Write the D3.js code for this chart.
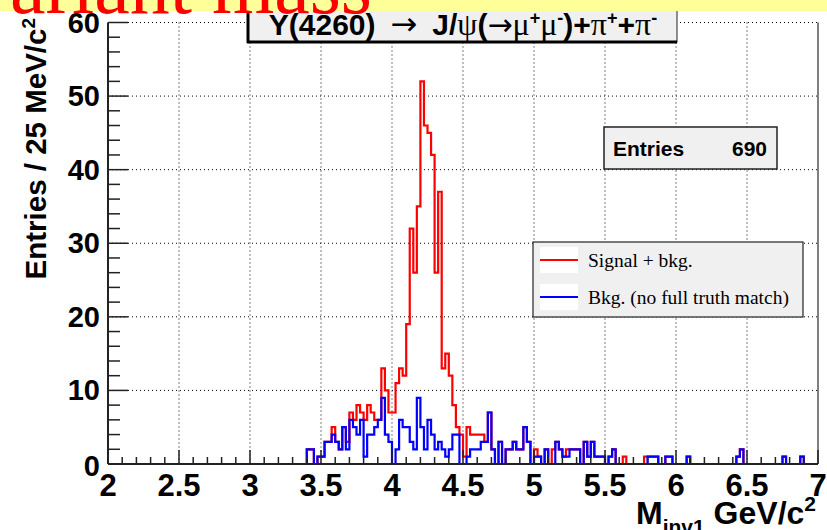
<!DOCTYPE html>
<html>
<head>
<meta charset="utf-8">
<script src="https://cdn.jsdelivr.net/npm/d3@7"></script>
<style>
  body { margin: 0; background: #fff; }
  svg { display: block; }
  .bold { font-family: "Liberation Sans", Arial, sans-serif; font-weight: bold; }
  .serif { font-family: "Liberation Serif", "Times New Roman", serif; }
  .arrow { font-family: "DejaVu Sans", sans-serif; font-weight: normal; }
</style>
</head>
<body>
<svg id="chart" width="827" height="530"></svg>
<script>
// Histogram binning: 25 MeV bins from 2 to 7 GeV/c^2
const xMin = 2, xMax = 7, binWidth = 0.025;
const nBins = Math.round((xMax - xMin) / binWidth);
const firstBin = 56; // first filled bin (3.400 GeV); bins before it are empty

// Signal + background counts per bin, starting at firstBin
const signalBkg = [
  2, 2, 0, 1, 1, 3, 3, 5, 3, 2,
  5, 3, 7, 6, 8, 7, 6, 8, 7, 6,
  6, 13, 10, 7, 7, 11, 13, 12, 19, 32,
  26, 35, 52, 46, 45, 42, 26, 37, 13, 15,
  12, 8, 5, 4, 1, 5, 4, 4, 4, 4,
  3, 7, 2, 0, 3, 0, 2, 2, 3, 2,
  2, 5, 3, 0, 2, 1, 0, 2, 0, 2,
  3, 2, 1, 2, 2, 2, 2, 0, 3, 1,
  3, 1, 1, 1, 0, 1, 2, 0, 0, 1,
  0, 0, 0, 0, 0, 1, 1, 1, 1, 0,
  0, 1, 1, 0, 0, 0, 0, 1, 0, 0,
  0, 0, 0, 0, 0, 0, 0, 0, 0, 0,
  0, 1, 2, 0, 0, 0, 0, 0, 0, 0,
  0, 0, 0, 0, 1, 0, 0, 0, 0, 1,
  0, 0, 0, 0
];

// Background-only counts (no full truth match), starting at firstBin
const bkgOnly = [
  2, 2, 0, 1, 1, 3, 3, 4, 3, 2,
  5, 2, 6, 5, 4, 6, 1, 4, 4, 5,
  6, 9, 4, 3, 0, 2, 6, 5, 5, 3,
  2, 9, 5, 2, 6, 4, 2, 3, 2, 1,
  2, 4, 4, 0, 0, 1, 2, 2, 2, 3,
  3, 7, 2, 0, 3, 0, 2, 2, 3, 2,
  2, 5, 3, 0, 1, 1, 0, 2, 0, 0,
  3, 2, 1, 1, 2, 2, 2, 0, 3, 1,
  3, 1, 1, 1, 0, 1, 2, 0, 0, 0,
  0, 0, 0, 0, 0, 0, 1, 1, 1, 0,
  0, 1, 1, 0, 0, 0, 0, 1, 0, 0,
  0, 0, 0, 0, 0, 0, 0, 0, 0, 0,
  0, 1, 2, 0, 0, 0, 0, 0, 0, 0,
  0, 0, 0, 0, 1, 0, 0, 0, 0, 1,
  0, 0, 0, 0
];

const xTickLabels = ["2", "2.5", "3", "3.5", "4", "4.5", "5", "5.5", "6", "6.5", "7"];
const yTickLabels = ["0", "10", "20", "30", "40", "50", "60"];
const entriesCount = 690;
const legendLabels = ["Signal + bkg.", "Bkg. (no full truth match)"];
const seriesColors = ["#ff0000", "#0000ff"];

const svg = d3.select("#chart");
const W = 827, H = 530;
const plot = { left: 108, right: 818, top: 22.5, bottom: 464 };

const x = d3.scaleLinear().domain([xMin, xMax]).range([plot.left, plot.right]);
const y = d3.scaleLinear().domain([0, 60]).range([plot.bottom, plot.top]);

svg.append("rect").attr("width", W).attr("height", H).attr("fill", "#fff");

// Dotted grid
const grid = svg.append("g").attr("stroke", "#000").attr("stroke-width", 1)
  .attr("stroke-dasharray", "1,3").attr("fill", "none");
xTickLabels.map(Number).filter(v => v > xMin && v < xMax).forEach(v => {
  grid.append("line").attr("x1", x(v)).attr("x2", x(v))
    .attr("y1", plot.top).attr("y2", plot.bottom);
});
yTickLabels.map(Number).filter(v => v > 0).forEach(v => {
  grid.append("line").attr("x1", plot.left).attr("x2", plot.right)
    .attr("y1", y(v)).attr("y2", y(v));
});

// Frame right edge
svg.append("line").attr("x1", plot.right).attr("x2", plot.right)
  .attr("y1", plot.top).attr("y2", plot.bottom)
  .attr("stroke", "#555").attr("stroke-width", 1.5);

// Full bin arrays for drawing
function fullBins(arr) {
  const out = new Array(nBins).fill(0);
  arr.forEach((v, i) => { out[firstBin + i] = v; });
  return out;
}
function stepPoints(counts) {
  const pts = counts.map((c, i) => [xMin + i * binWidth, c]);
  pts.push([xMax, counts[counts.length - 1]]);
  return pts;
}
const line = d3.line()
  .x(d => x(d[0]))
  .y(d => y(d[1]))
  .curve(d3.curveStepAfter);

[signalBkg, bkgOnly].forEach((arr, k) => {
  svg.append("path")
    .datum(stepPoints(fullBins(arr)))
    .attr("d", line)
    .attr("fill", "none")
    .attr("stroke", seriesColors[k])
    .attr("stroke-width", 2.2)
    .attr("stroke-linejoin", "miter");
});

// Axes with major and minor ticks pointing inward
const axes = svg.append("g").attr("stroke", "#222");
axes.append("line").attr("x1", plot.left).attr("x2", plot.right)
  .attr("y1", plot.bottom).attr("y2", plot.bottom).attr("stroke-width", 2);
axes.append("line").attr("x1", plot.left).attr("x2", plot.left)
  .attr("y1", plot.top).attr("y2", plot.bottom).attr("stroke-width", 2);

d3.range(0, 51).forEach(i => {
  const v = xMin + i * 0.1;
  const major = i % 5 === 0;
  axes.append("line").attr("x1", x(v)).attr("x2", x(v))
    .attr("y1", plot.bottom).attr("y2", plot.bottom - (major ? 14 : 7))
    .attr("stroke-width", 1.5);
});
d3.range(0, 31).forEach(i => {
  const v = i * 2;
  const major = v % 10 === 0;
  axes.append("line").attr("x1", plot.left).attr("x2", plot.left + (major ? 20 : 12))
    .attr("y1", y(v)).attr("y2", y(v))
    .attr("stroke-width", 1.5);
});

// Tick labels
svg.append("g").selectAll("text").data(xTickLabels).join("text")
  .attr("class", "bold")
  .attr("x", d => x(+d))
  .attr("y", 496)
  .attr("text-anchor", "middle")
  .attr("font-size", 31)
  .attr("fill", "#000")
  .text(d => d);

svg.append("g").selectAll("text").data(yTickLabels).join("text")
  .attr("class", "bold")
  .attr("x", 100)
  .attr("y", d => y(+d) + (+d === 0 ? 12 : 10))
  .attr("text-anchor", "end")
  .attr("font-size", 29)
  .attr("fill", "#000")
  .text(d => d);

// Axis titles
const yTitle = svg.append("text")
  .attr("class", "bold")
  .attr("transform", `translate(46, 18) rotate(-90)`)
  .attr("text-anchor", "end")
  .attr("font-size", 29.5)
  .attr("fill", "#000");
yTitle.append("tspan").text("Entries / 25 MeV/c");
yTitle.append("tspan").attr("dy", -11).attr("font-size", 19).text("2");

const xTitle = svg.append("text")
  .attr("class", "bold")
  .attr("x", 816)
  .attr("y", 524)
  .attr("text-anchor", "end")
  .attr("font-size", 32)
  .attr("fill", "#000");
xTitle.append("tspan").text("M");
xTitle.append("tspan").attr("dy", 10).attr("font-size", 21).text("inv1");
xTitle.append("tspan").attr("dy", -10).text(" GeV/c");
xTitle.append("tspan").attr("dy", -13).attr("font-size", 21).text("2");

// Statistics box
const stats = svg.append("g");
stats.append("rect").attr("x", 604).attr("y", 127).attr("width", 173).attr("height", 42)
  .attr("fill", "#f0f0f0").attr("stroke", "#222").attr("stroke-width", 1.5);
stats.append("text").attr("class", "bold").attr("x", 613).attr("y", 156)
  .attr("font-size", 21).text("Entries");
stats.append("text").attr("class", "bold").attr("x", 767).attr("y", 156)
  .attr("text-anchor", "end").attr("font-size", 21).text(entriesCount);

// Legend
const legend = svg.append("g");
legend.append("rect").attr("x", 533).attr("y", 242).attr("width", 270).attr("height", 75)
  .attr("fill", "#f0f0f0").attr("stroke", "#222").attr("stroke-width", 1.2);
legendLabels.forEach((lab, i) => {
  const cy = 260 + i * 37;
  legend.append("rect").attr("x", 540).attr("y", cy - 13).attr("width", 38).attr("height", 26)
    .attr("fill", "#fff");
  legend.append("line").attr("x1", 540).attr("x2", 578).attr("y1", cy).attr("y2", cy)
    .attr("stroke", seriesColors[i]).attr("stroke-width", 2);
  legend.append("text").attr("class", "serif").attr("x", 588).attr("y", cy + 7)
    .attr("font-size", 19.5).attr("fill", "#000").text(lab);
});

// Title box with shadowed left and bottom edges
const tb = svg.append("g");
tb.append("rect").attr("x", 248).attr("y", 6).attr("width", 429).attr("height", 36)
  .attr("fill", "#f0f0f0").attr("stroke", "#222").attr("stroke-width", 1);
tb.append("line").attr("x1", 248).attr("x2", 248).attr("y1", 8).attr("y2", 43)
  .attr("stroke", "#000").attr("stroke-width", 3);
tb.append("line").attr("x1", 247).attr("x2", 677).attr("y1", 42).attr("y2", 42)
  .attr("stroke", "#000").attr("stroke-width", 3);
const title = tb.append("text").attr("x", 463).attr("y", 35)
  .attr("text-anchor", "middle").attr("font-size", 30).attr("fill", "#000");
const sym = "serif";
[
  ["Y(4260)\u2002", "bold"], ["\u2192", "arrow", 0, 32], ["\u2002J/", "bold"], ["\u03c8", sym, 0, 32],
  ["(", "bold"], ["\u2192", "arrow", 0, 30], ["\u03bc", sym, 0, 32], ["+", "bold", -11, 18], ["\u03bc", sym, 11, 32],
  ["-", "bold", -11, 18], [")+", "bold", 11], ["\u03c0", sym, 0, 32], ["+", "bold", -11, 18],
  ["+", "bold", 11], ["\u03c0", sym, 0, 32], ["-", "bold", -11, 18]
].forEach(([t, cls, dy, fs]) => {
  const s = title.append("tspan").attr("class", cls).text(t);
  if (dy) s.attr("dy", dy);
  if (fs) s.attr("font-size", fs);
});

// Slide heading strip across the top
svg.append("rect").attr("x", 0).attr("y", 0).attr("width", W).attr("height", 11)
  .attr("fill", "#ffff99");
svg.append("text").attr("class", "serif")
  .attr("x", 372).attr("y", 13)
  .attr("text-anchor", "end")
  .attr("font-size", 80)
  .attr("fill", "#ff0000")
  .text("Invariant mass");
</script>
</body>
</html>
